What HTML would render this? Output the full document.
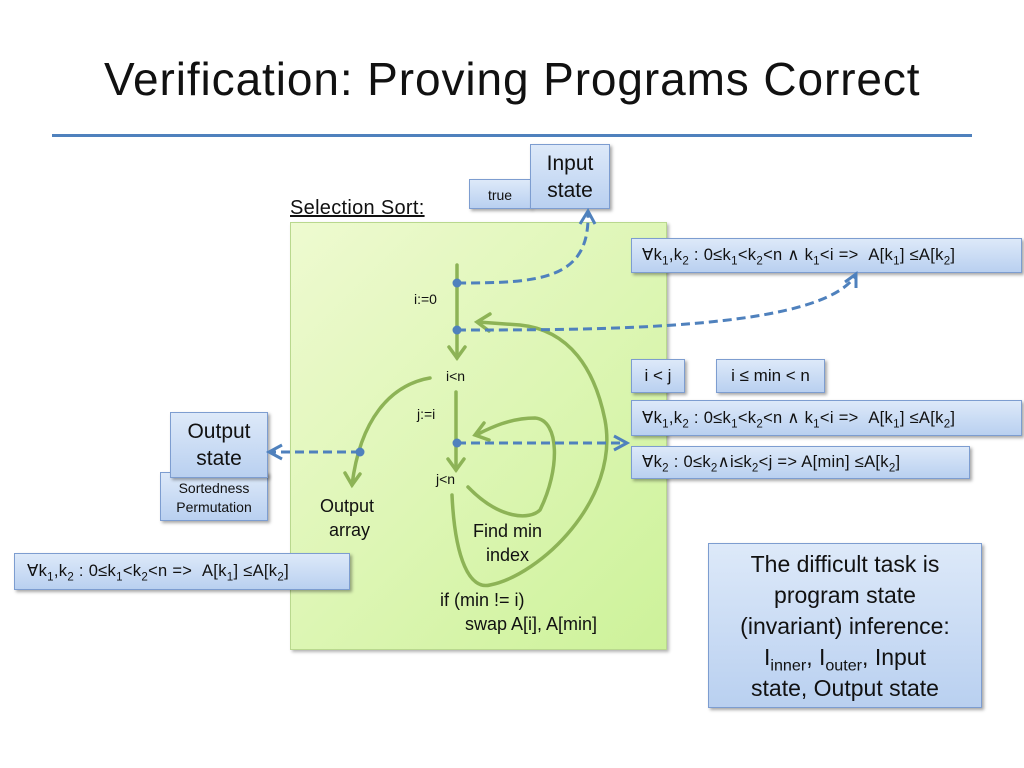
<!DOCTYPE html>
<html><head><meta charset="utf-8"><style>
body{margin:0;width:1024px;height:768px;background:#fff;position:relative;overflow:hidden;font-family:"Comic Sans MS","Liberation Sans",sans-serif;}
.b{position:absolute;box-sizing:border-box;background:linear-gradient(#dde9f9,#b9d0f0);border:1px solid #7d9dd0;box-shadow:2px 2px 3px rgba(0,0,0,.35);color:#111;white-space:nowrap}
.t{position:absolute;color:#111;white-space:nowrap}
sub{font-size:70%;line-height:0}
</style></head><body>
<div class="t" style="left:104px;top:52px;font-size:46px;letter-spacing:0.9px">Verification: Proving Programs Correct</div>
<div style="position:absolute;left:52px;top:134px;width:920px;height:3px;background:#4f81bd"></div>
<div style="position:absolute;left:290px;top:222px;width:375px;height:426px;background:linear-gradient(135deg,#eefad0,#cdf29a);border:1px solid #b9d88e;box-shadow:2px 2px 3px rgba(0,0,0,.3)"></div>
<div class="t" style="left:290px;top:197px;font-size:20px;text-decoration:underline;letter-spacing:0.3px">Selection Sort:</div>
<div class="b" style="left:469px;top:179px;width:62px;height:30px;font-size:14px;text-align:center;line-height:30px">true</div>
<div class="b" style="left:530px;top:144px;width:80px;height:65px;font-size:21px;text-align:center;line-height:27px;padding-top:5px">Input<br>state</div>
<div class="b" style="left:631px;top:238px;width:391px;height:35px;font-size:16.5px;line-height:33px;padding-left:10px;letter-spacing:0.3px">∀k<sub>1</sub>,k<sub>2</sub> : 0≤k<sub>1</sub>&lt;k<sub>2</sub>&lt;n ∧ k<sub>1</sub>&lt;i =&gt; &nbsp;A[k<sub>1</sub>] ≤A[k<sub>2</sub>]</div>
<div class="b" style="left:631px;top:359px;width:54px;height:34px;font-size:17px;line-height:32px;text-align:center">i &lt; j</div>
<div class="b" style="left:716px;top:359px;width:109px;height:34px;font-size:17px;line-height:32px;text-align:center">i ≤ min &lt; n</div>
<div class="b" style="left:631px;top:400px;width:391px;height:36px;font-size:16.5px;line-height:34px;padding-left:10px;letter-spacing:0.3px">∀k<sub>1</sub>,k<sub>2</sub> : 0≤k<sub>1</sub>&lt;k<sub>2</sub>&lt;n ∧ k<sub>1</sub>&lt;i =&gt; &nbsp;A[k<sub>1</sub>] ≤A[k<sub>2</sub>]</div>
<div class="b" style="left:631px;top:446px;width:339px;height:33px;font-size:16.5px;line-height:31px;padding-left:10px;letter-spacing:0.3px">∀k<sub>2</sub> : 0≤k<sub>2</sub>∧i≤k<sub>2</sub>&lt;j =&gt; A[min] ≤A[k<sub>2</sub>]</div>
<div class="b" style="left:160px;top:472px;width:108px;height:49px;font-size:14px;text-align:center;line-height:19px;padding-top:6px">Sortedness<br>Permutation</div>
<div class="b" style="left:170px;top:412px;width:98px;height:66px;font-size:21px;text-align:center;line-height:27px;padding-top:5px">Output<br>state</div>
<div class="b" style="left:14px;top:553px;width:336px;height:37px;font-size:16.5px;line-height:35px;padding-left:12px;letter-spacing:0.3px">∀k<sub>1</sub>,k<sub>2</sub> : 0≤k<sub>1</sub>&lt;k<sub>2</sub>&lt;n =&gt; &nbsp;A[k<sub>1</sub>] ≤A[k<sub>2</sub>]</div>
<div class="b" style="left:708px;top:543px;width:274px;height:165px;font-size:23px;text-align:center;line-height:31px;padding-top:5px">The difficult task is<br>program state<br>(invariant) inference:<br>I<sub>inner</sub>, I<sub>outer</sub>, Input<br>state, Output state</div>
<div class="t" style="left:414px;top:291px;font-size:14px">i:=0</div>
<div class="t" style="left:446px;top:368px;font-size:14px">i&lt;n</div>
<div class="t" style="left:417px;top:406px;font-size:14px">j:=i</div>
<div class="t" style="left:436px;top:471px;font-size:14px">j&lt;n</div>
<div class="t" style="left:320px;top:494px;font-size:18px;text-align:center;line-height:24px">Output<br>&nbsp;array</div>
<div class="t" style="left:473px;top:519px;font-size:18px;text-align:center;line-height:24px">Find min<br>index</div>
<div class="t" style="left:440px;top:588px;font-size:18px;line-height:24px">if (min != i)<br>&nbsp;&nbsp;&nbsp;&nbsp;&nbsp;swap A[i], A[min]</div>
<svg width="1024" height="768" style="position:absolute;left:0;top:0">
<g fill="none" stroke="#8db356" stroke-width="3.5" stroke-linecap="round">
<path d="M457 265 V358"/><path d="M449 347 L457 358 L465 347"/>
<path d="M456 392 V470"/><path d="M448 459 L456 470 L464 459"/>
<path d="M430 378 C390 385 360 420 352 485"/><path d="M345 473 L352 485 L360 474"/>
<path d="M452 495 C455 560 470 590 490 585 C540 575 620 500 605 420 C595 370 570 330 520 325 L478 322"/><path d="M490 314 L477 322 L489 331"/>
<path d="M468 487 C500 520 530 520 540 510 C560 470 560 420 535 418 C510 418 490 428 478 434"/><path d="M484 423 L475 435 L489 440"/>
</g>
<g fill="none" stroke="#4f81bd" stroke-width="3" stroke-dasharray="9,5">
<path d="M457 283 C540 283 590 280 588 213"/>
<path d="M457 330 C600 330 820 330 855 276"/>
<path d="M457 443 H625"/>
<path d="M360 452 H270"/>
</g>
<g fill="none" stroke="#4f81bd" stroke-width="3">
<path d="M580 224 L588 211 L595 224"/><path d="M845 282 L856 274 L856 288"/>
<path d="M614 436 L627 443 L614 450"/><path d="M282 445 L269 452 L282 459"/>
</g>
<g fill="#4f81bd"><circle cx="457" cy="283" r="4.5"/><circle cx="457" cy="330" r="4.5"/><circle cx="457" cy="443" r="4.5"/><circle cx="360" cy="452" r="4.5"/></g>
</svg>
</body></html>
